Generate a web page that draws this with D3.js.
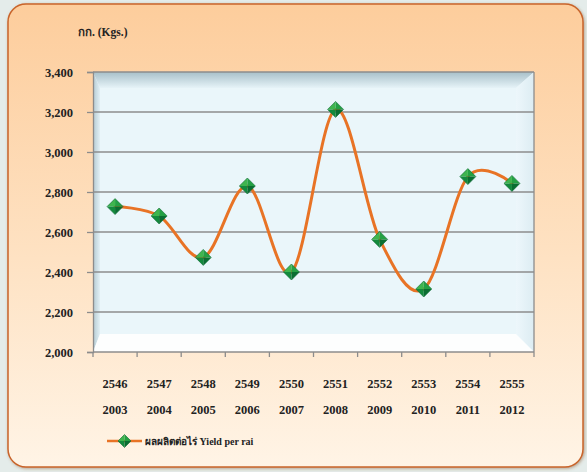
<!DOCTYPE html>
<html>
<head>
<meta charset="utf-8">
<script src="https://cdn.jsdelivr.net/npm/d3@7"></script>
<style>
  html, body { margin: 0; padding: 0; background: #e4ecea; }
  svg { display: block; }
  text { font-family: "Liberation Serif", "Times New Roman", serif; font-weight: bold; fill: #222; }
</style>
</head>
<body>
<svg id="chart"></svg>
<script>
// data
const thaiYears = ["2546", "2547", "2548", "2549", "2550", "2551", "2552", "2553", "2554", "2555"];
const adYears = ["2003", "2004", "2005", "2006", "2007", "2008", "2009", "2010", "2011", "2012"];
const yieldPerRai = [2727, 2680, 2473, 2830, 2400, 3213, 2563, 2315, 2877, 2843];
const yTicks = [2000, 2200, 2400, 2600, 2800, 3000, 3200, 3400];
const yTitle = "กก. (Kgs.)";
const seriesName = "ผลผลิตต่อไร่ Yield per rai";

const svgWidth = 587, svgHeight = 472;
const marginLeft = 93, marginRight = 53, marginTop = 72, marginBottom = 120;
const plotW = svgWidth - marginLeft - marginRight;
const plotH = svgHeight - marginTop - marginBottom;

const svg = d3.select("#chart")
  .attr("width", svgWidth)
  .attr("height", svgHeight);

const defs = svg.append("defs");

// card background gradient
const cardGrad = defs.append("linearGradient").attr("id", "cardGrad")
  .attr("x1", 0).attr("y1", 0).attr("x2", 0).attr("y2", 1);
cardGrad.append("stop").attr("offset", "0%").attr("stop-color", "#fdcd9c");
cardGrad.append("stop").attr("offset", "55%").attr("stop-color", "#fee2c3");
cardGrad.append("stop").attr("offset", "100%").attr("stop-color", "#fff4e6");

const topWall = defs.append("linearGradient").attr("id", "topWall")
  .attr("x1", 0).attr("y1", 0).attr("x2", 0).attr("y2", 1);
topWall.append("stop").attr("offset", "0%").attr("stop-color", "#a8c0c9");
topWall.append("stop").attr("offset", "100%").attr("stop-color", "#e6f3f8");

const leftWall = defs.append("linearGradient").attr("id", "leftWall")
  .attr("x1", 0).attr("y1", 0).attr("x2", 1).attr("y2", 0);
leftWall.append("stop").attr("offset", "0%").attr("stop-color", "#b4cad2");
leftWall.append("stop").attr("offset", "100%").attr("stop-color", "#e2f0f5");

const rightWall = defs.append("linearGradient").attr("id", "rightWall")
  .attr("x1", 0).attr("y1", 0).attr("x2", 1).attr("y2", 0);
rightWall.append("stop").attr("offset", "0%").attr("stop-color", "#edf7fb");
rightWall.append("stop").attr("offset", "100%").attr("stop-color", "#dcecf2");

const cardShadow = defs.append("filter").attr("id", "cardShadow")
  .attr("x", "-5%").attr("y", "-5%").attr("width", "110%").attr("height", "110%");
cardShadow.append("feDropShadow").attr("dx", 1).attr("dy", 1).attr("stdDeviation", 1.5)
  .attr("flood-color", "#8a5a30").attr("flood-opacity", 0.5);

// card
svg.append("rect")
  .attr("x", 8).attr("y", 4)
  .attr("width", 575).attr("height", 463)
  .attr("rx", 18).attr("ry", 18)
  .attr("fill", "url(#cardGrad)")
  .attr("stroke", "#c9642a")
  .attr("stroke-width", 1.5)
  .attr("filter", "url(#cardShadow)");

// scales
const x = d3.scaleBand()
  .domain(thaiYears)
  .range([marginLeft, marginLeft + plotW]);

const y = d3.scaleLinear()
  .domain([2000, 3400])
  .range([marginTop + plotH, marginTop]);

// plot area with 3D walls
const x0 = marginLeft, x1 = marginLeft + plotW, y0 = marginTop, y1 = marginTop + plotH;
const depthL = 7, depthT = 16, depthR = 18, depthB = 18;
const plot = svg.append("g");
plot.append("rect").attr("x", x0).attr("y", y0).attr("width", plotW).attr("height", plotH)
  .attr("fill", "#eaf6fa");
plot.append("polygon")
  .attr("points", [[x0, y0], [x1, y0], [x1 - depthR, y0 + depthT], [x0 + depthL, y0 + depthT]].join(" "))
  .attr("fill", "url(#topWall)");
plot.append("polygon")
  .attr("points", [[x0, y0], [x0 + depthL, y0 + depthT], [x0 + depthL, y1 - depthB], [x0, y1]].join(" "))
  .attr("fill", "url(#leftWall)");
plot.append("polygon")
  .attr("points", [[x1, y0], [x1, y1], [x1 - depthR, y1 - depthB], [x1 - depthR, y0 + depthT]].join(" "))
  .attr("fill", "url(#rightWall)");
plot.append("polygon")
  .attr("points", [[x0, y1], [x0 + depthL, y1 - depthB], [x1 - depthR, y1 - depthB], [x1, y1]].join(" "))
  .attr("fill", "#fdfefe");

// gridlines
svg.append("g")
  .selectAll("line")
  .data(yTicks.slice(1))
  .join("line")
  .attr("x1", x0).attr("x2", x1)
  .attr("y1", d => y(d)).attr("y2", d => y(d))
  .attr("stroke", "#8c8c8c")
  .attr("stroke-width", 1.3);

// right border of plot
svg.append("line")
  .attr("x1", x1).attr("x2", x1).attr("y1", y0).attr("y2", y1)
  .attr("stroke", "#8c8c8c").attr("stroke-width", 1.3);

// y axis
svg.append("g")
  .attr("transform", `translate(${x0},0)`)
  .call(d3.axisLeft(y).tickValues(yTicks).tickSize(6).tickPadding(14).tickFormat(d3.format(",")))
  .call(g => g.select(".domain").attr("stroke", "#8c8c8c").attr("stroke-width", 1.3))
  .call(g => g.selectAll(".tick line").attr("stroke", "#8c8c8c").attr("stroke-width", 1.3))
  .call(g => g.selectAll(".tick text")
    .attr("font-family", "Liberation Serif, serif")
    .attr("font-weight", "bold")
    .attr("font-size", 12.5)
    .attr("fill", "#222"));

// x axis (ticks at category boundaries)
const xAxis = svg.append("g").attr("transform", `translate(0,${y1})`);
xAxis.append("line").attr("x1", x0).attr("x2", x1).attr("y1", 0).attr("y2", 0)
  .attr("stroke", "#8c8c8c").attr("stroke-width", 1.3);
xAxis.selectAll(".bound")
  .data(thaiYears.concat(["end"]))
  .join("line")
  .attr("x1", (d, i) => i < thaiYears.length ? x(d) : x1)
  .attr("x2", (d, i) => i < thaiYears.length ? x(d) : x1)
  .attr("y1", 0).attr("y2", 5)
  .attr("stroke", "#8c8c8c").attr("stroke-width", 1.3);

svg.append("g")
  .selectAll("text")
  .data(thaiYears)
  .join("text")
  .attr("x", d => x(d) + x.bandwidth() / 2)
  .attr("y", 388)
  .attr("text-anchor", "middle")
  .attr("font-size", 12.5)
  .text(d => d);

svg.append("g")
  .selectAll("text")
  .data(adYears)
  .join("text")
  .attr("x", (d, i) => x(thaiYears[i]) + x.bandwidth() / 2)
  .attr("y", 414)
  .attr("text-anchor", "middle")
  .attr("font-size", 12.5)
  .text(d => d);

// y title
svg.append("text")
  .attr("x", 78).attr("y", 36)
  .attr("font-size", 11.5)
  .text(yTitle);

// line
const pts = yieldPerRai.map((v, i) => ({ cat: thaiYears[i], value: v }));
const line = d3.line()
  .x(d => x(d.cat) + x.bandwidth() / 2)
  .y(d => y(d.value))
  .curve(d3.curveCardinal.tension(0));

svg.append("path")
  .datum(pts)
  .attr("fill", "none")
  .attr("stroke", "#e87325")
  .attr("stroke-width", 3)
  .attr("stroke-linejoin", "round")
  .attr("stroke-linecap", "round")
  .attr("d", line);

// diamond markers drawn as four shaded facets
function drawDiamond(g, cx, cy, r) {
  const c = [cx, cy], t = [cx, cy - r], b = [cx, cy + r], l = [cx - r, cy], rt = [cx + r, cy];
  g.append("polygon").attr("points", [t, l, c].join(" ")).attr("fill", "#3fb54e");
  g.append("polygon").attr("points", [t, rt, c].join(" ")).attr("fill", "#24a043");
  g.append("polygon").attr("points", [l, b, c].join(" ")).attr("fill", "#138a3c");
  g.append("polygon").attr("points", [rt, b, c].join(" ")).attr("fill", "#0a6e31");
  g.append("polygon").attr("points", [t, rt, b, l].join(" "))
    .attr("fill", "none").attr("stroke", "#0d6b34").attr("stroke-width", 0.6);
}

const markers = svg.append("g");
pts.forEach(d => drawDiamond(markers, x(d.cat) + x.bandwidth() / 2, y(d.value), 8));

// legend
const legend = svg.append("g");
legend.append("line").attr("x1", 107).attr("x2", 142).attr("y1", 441).attr("y2", 441)
  .attr("stroke", "#e87325").attr("stroke-width", 2.5);
drawDiamond(legend, 124.5, 441, 6.5);
legend.append("text").attr("x", 145).attr("y", 445)
  .attr("font-size", 10)
  .text(seriesName);
</script>
</body>
</html>
